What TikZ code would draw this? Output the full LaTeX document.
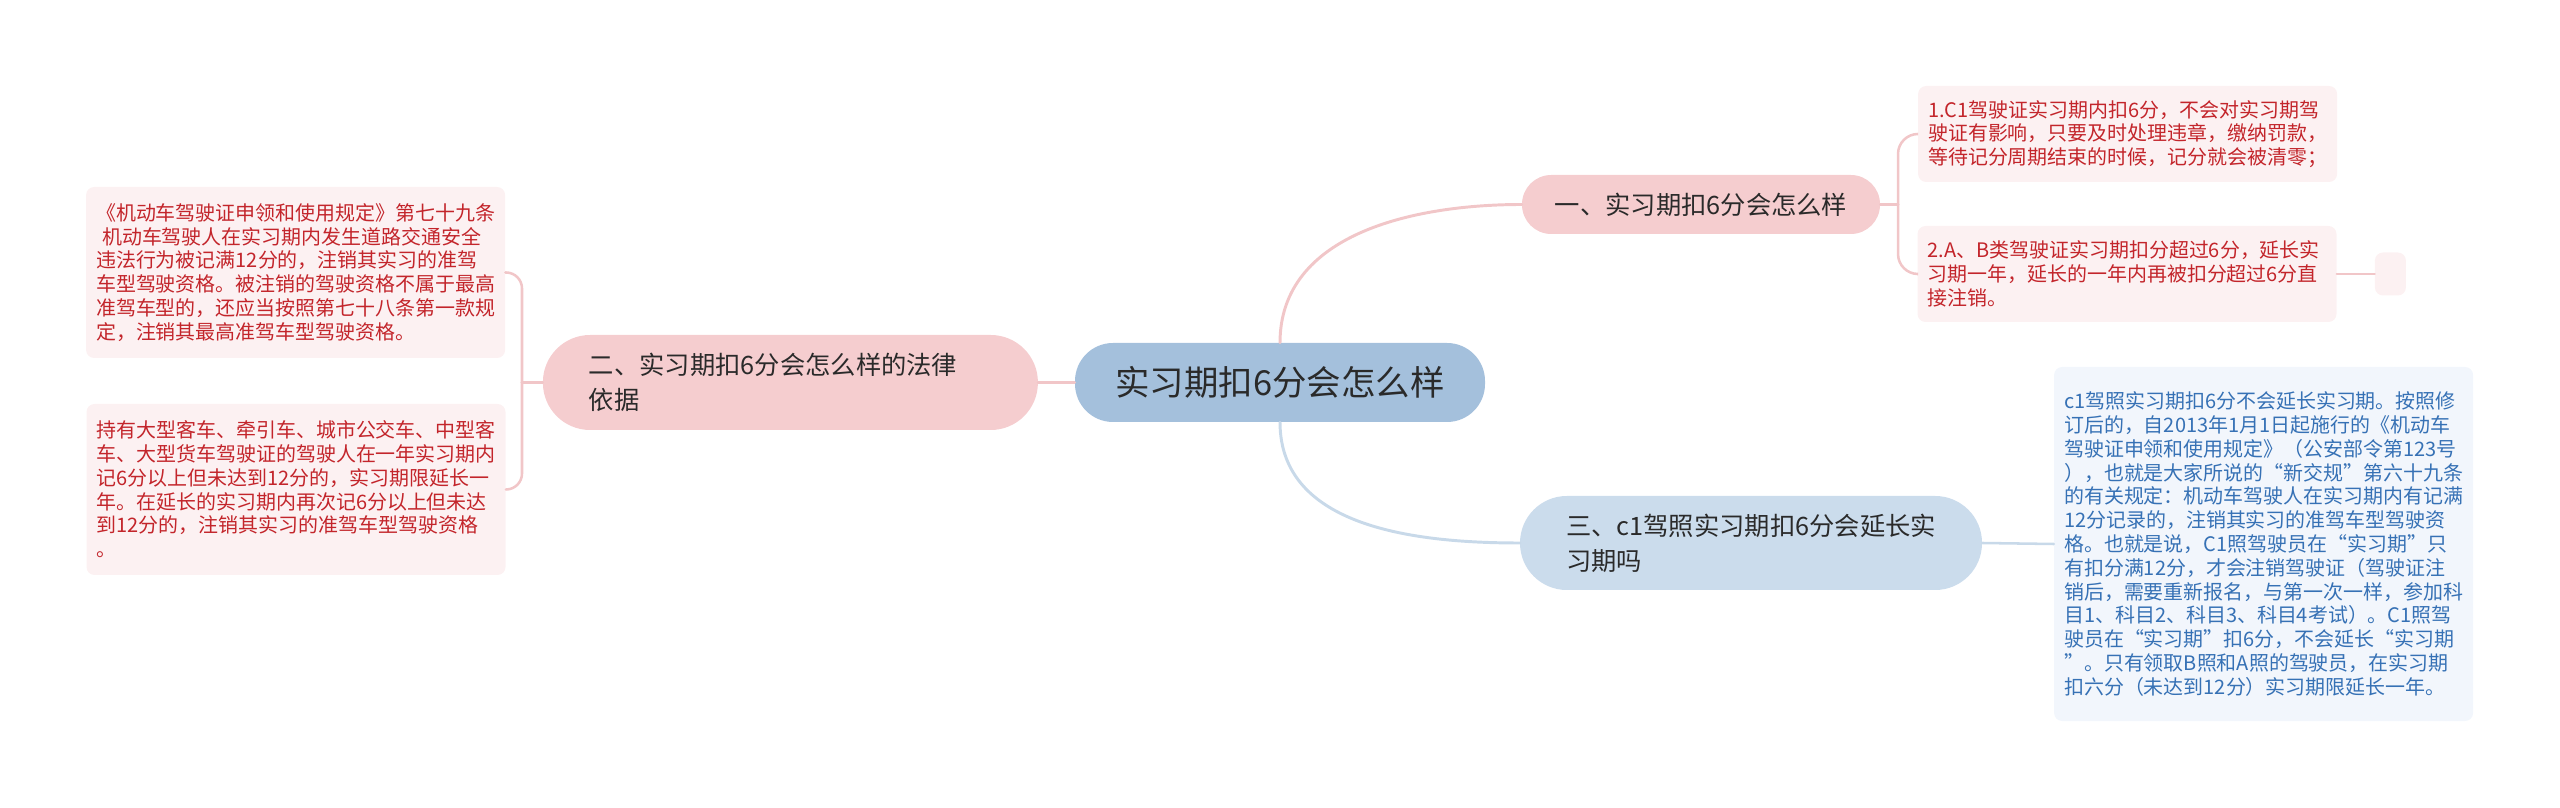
\documentclass[tikz,border=0pt]{standalone}
\usepackage{fontspec}
\setmainfont{Noto Sans CJK SC}
\usepackage{tikz}
\usetikzlibrary{positioning}
\definecolor{rootfill}{HTML}{A4C0DC}
\definecolor{pinkfill}{HTML}{F5CDCF}
\definecolor{bluefill}{HTML}{CBDCEC}
\definecolor{pinkleaf}{HTML}{FCF1F2}
\definecolor{blueleaf}{HTML}{F2F6FC}
\definecolor{redtext}{HTML}{C3252B}
\definecolor{bluetext}{HTML}{3671B5}
\definecolor{darktext}{HTML}{2A2A2A}
\definecolor{pinkline}{HTML}{F1C6C8}
\definecolor{blueline}{HTML}{C8D9E9}
\tikzset{
  root/.style={fill=rootfill, text=darktext, rounded corners=0.95cm, minimum width=10.25cm, minimum height=1.975cm, inner sep=0pt, font=\fontsize{24.5}{30}\selectfont},
  topic/.style={text=darktext, inner ysep=0pt, align=left, font=\fontsize{18}{24.9}\selectfont},
  pinktopic/.style={topic, fill=pinkfill},
  bluetopic/.style={topic, fill=bluefill},
  leaf/.style={rounded corners=0.2cm, text width=9.975cm, inner xsep=0.25cm, inner ysep=0pt, align=left, font=\fontsize{14.2}{16.9}\selectfont},
  pinkleafbox/.style={leaf, fill=pinkleaf, text=redtext},
  blueleafbox/.style={leaf, fill=blueleaf, text=bluetext},
  pinklink/.style={draw=pinkline, line width=2.1pt, line cap=round},
  bluelink/.style={draw=blueline, line width=2.1pt, line cap=round},
  pinkthin/.style={draw=pinkline, line width=1.8pt, line cap=round},
  bluethin/.style={draw=blueline, line width=1.8pt, line cap=round},
}
\begin{document}
\begin{tikzpicture}
  \useasboundingbox (0,0) rectangle (64,20.175);
  % centre and main topics
  \node[root] (root) at (32,10.6125) {实习期扣6分会怎么样};
  \node[pinktopic, align=center, inner xsep=0pt, minimum width=8.95cm, minimum height=1.475cm, rounded corners=0.73cm] (t1) at (42.525,15.0625) {一、实习期扣6分会怎么样};
  \node[pinktopic, text width=10.075cm, inner xsep=1.15cm, minimum height=2.375cm, rounded corners=1.18cm] (t2) at (19.76,10.6125) {二、实习期扣6分会怎么样的法律\\依据};
  \node[bluetopic, text width=9.25cm, inner xsep=1.15cm, minimum height=2.35cm, rounded corners=1.17cm] (t3) at (43.775,6.6) {三、c1驾照实习期扣6分会延长实\\习期吗};
  % leaves of topic one
  \node[pinkleafbox, minimum height=2.4cm] (l1) at (53.19,16.825) {1.C1驾驶证实习期内扣6分，不会对实习期驾\\驶证有影响，只要及时处理违章，缴纳罚款，\\等待记分周期结束的时候，记分就会被清零；};
  \node[pinkleafbox, minimum height=2.4cm] (l2) at (53.175,13.325) {2.A、B类驾驶证实习期扣分超过6分，延长实\\习期一年，延长的一年内再被扣分超过6分直\\接注销。};
  \node[fill=pinkleaf, rounded corners=0.2cm, minimum width=0.775cm, minimum height=1.075cm, inner sep=0pt] (e1) at (59.76,13.325) {};
  % leaves of topic two
  \node[pinkleafbox, minimum height=4.275cm] (ll1) at (7.39,13.3625) {《机动车驾驶证申领和使用规定》第七十九条\\\hspace*{0.3em}机动车驾驶人在实习期内发生道路交通安全\\违法行为被记满12分的，注销其实习的准驾\\车型驾驶资格。被注销的驾驶资格不属于最高\\准驾车型的，还应当按照第七十八条第一款规\\定，注销其最高准驾车型驾驶资格。};
  \node[pinkleafbox, minimum height=4.275cm] (ll2) at (7.4,7.9375) {持有大型客车、牵引车、城市公交车、中型客\\车、大型货车驾驶证的驾驶人在一年实习期内\\记6分以上但未达到12分的，实习期限延长一\\年。在延长的实习期内再次记6分以上但未达\\到12分的，注销其实习的准驾车型驾驶资格\\。};
  % leaf of topic three
  \node[blueleafbox, minimum height=8.85cm] (l3) at (56.59,6.575) {c1驾照实习期扣6分不会延长实习期。按照修\\订后的，自2013年1月1日起施行的《机动车\\驾驶证申领和使用规定》（公安部令第123号\\），也就是大家所说的“新交规”第六十九条\\的有关规定：机动车驾驶人在实习期内有记满\\12分记录的，注销其实习的准驾车型驾驶资\\格。也就是说，C1照驾驶员在“实习期”只\\有扣分满12分，才会注销驾驶证（驾驶证注\\销后，需要重新报名，与第一次一样，参加科\\目1、科目2、科目3、科目4考试）。C1照驾\\驶员在“实习期”扣6分，不会延长“实习期\\”。只有领取B照和A照的驾驶员，在实习期\\扣六分（未达到12分）实习期限延长一年。};
  % connectors
  \draw[pinklink] (root.north) to[out=90,in=180] (t1.west);
  \draw[bluelink] (root.south) to[out=-90,in=180] (t3.west);
  \draw[pinklink] (root.west) -- (t2.east);
  \coordinate (j1) at (47.45,15.0625);
  \draw[pinkthin] (t1.east) -- (j1);
  \draw[pinkthin, rounded corners=0.5cm] (j1) |- (l1.west);
  \draw[pinkthin, rounded corners=0.5cm] (j1) |- (l2.west);
  \draw[pinkthin] (l2.east) -- (e1.west);
  \coordinate (j2) at (13.05,10.6125);
  \draw[pinkthin] (t2.west) -- (j2);
  \draw[pinkthin, rounded corners=0.4cm] (j2) |- (ll1.east);
  \draw[pinkthin, rounded corners=0.4cm] (j2) |- (ll2.east);
  \draw[bluethin] (t3.east) -- (l3.west);
\end{tikzpicture}
\end{document}
